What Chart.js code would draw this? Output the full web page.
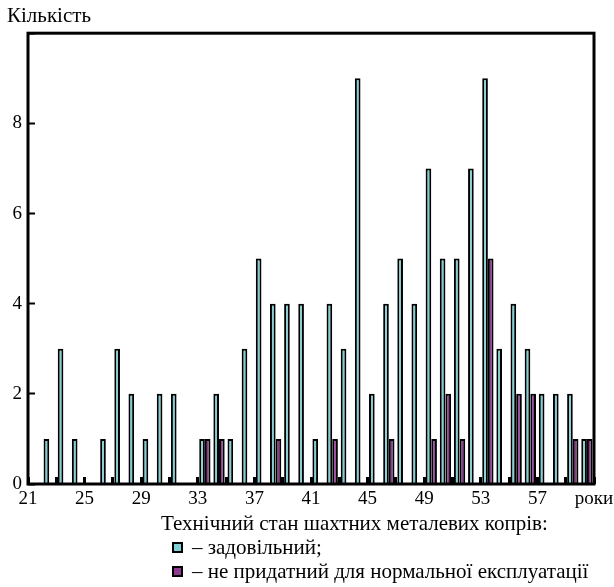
<!DOCTYPE html>
<html>
<head>
<meta charset="utf-8">
<script src="https://cdn.jsdelivr.net/npm/chart.js@4.4.0/dist/chart.umd.min.js"></script>
<style>
body { margin: 0; background: #ffffff; }
#wrap { position: relative; width: 614px; height: 587px; }
#legend { position: absolute; left: 0; top: 511px; width: 614px; font-family: "Liberation Serif", serif; font-size: 21px; line-height: 25px; color: #000; }
#legend .lg-title { position: absolute; left: 161px; top: 0; white-space: nowrap; }
#legend .lg-item { position: absolute; left: 172px; white-space: nowrap; }
#legend .lg-box { display: inline-block; width: 7px; height: 7px; border: 2px solid #000; vertical-align: 1px; margin-right: 9px; }
</style>
</head>
<body>
<div id="wrap">
    <canvas id="display-diagram" width="614" height="587"></canvas>
    <div id="legend"></div>
</div>
<script>
var years = [22, 23, 24, 25, 26, 27, 28, 29, 30, 31, 32, 33, 34, 35, 36, 37, 38, 39, 40, 41,
    42, 43, 44, 45, 46, 47, 48, 49, 50, 51, 52, 53, 54, 55, 56, 57, 58, 59, 60];
// Технічний стан: задовільний
var satisfactory = [1, 3, 1, null, 1, 3, 2, 1, 2, 2, null, 1, 2, 1, 3, 5, 4, 4, 4, 1,
    4, 3, 9, 2, 4, 5, 4, 7, 5, 5, 7, 9, 3, 4, 3, 2, 2, 2, 1];
// Технічний стан: не придатний
var unfit = [null, null, null, null, null, null, null, null, null, null, null, 1, 1, null, null, null, 1, null, null, null,
    1, null, null, null, 1, null, null, 1, 2, 1, null, 5, null, 2, 2, null, null, 1, 1];

var xLabelYears = [21, 25, 29, 33, 37, 41, 45, 49, 53, 57];
var xEndLabel = 'роки';
var yLabels = [0, 2, 4, 6, 8];
var legendTitle = 'Технічний стан шахтних металевих копрів:';
var seriesNames = ['– задовільний;', '– не придатний для нормальної експлуатації'];

var fontFamily = '"Liberation Serif", "Times New Roman", serif';
var profileDiagram;

function toPoints(values) { // pair the years with values, bar sits in the middle of the year
    var pts = [];
    for (var i = 0; i < years.length; i++) {
        pts.push({ x: years[i] + 0.5, y: values[i] });
    }
    return pts;
}

// frame around the plot area
var frameBox = {
    id: 'frameBox',
    afterDatasetsDraw: function (chart) {
        var a = chart.chartArea;
        var ctx = chart.ctx;
        ctx.save();
        ctx.strokeStyle = '#000';
        ctx.lineWidth = 3;
        ctx.strokeRect(a.left, a.top, a.right - a.left, a.bottom - a.top);
        ctx.restore();
    }
};

function showDiagram() {
    var ctx = document.getElementById('display-diagram');
    profileDiagram = new Chart(ctx, {
        type: 'bar',
        data: {
            datasets: [{
                label: seriesNames[0],
                data: toPoints(satisfactory),
                backgroundColor: '#7fd0d5',
                borderColor: '#000',
                borderWidth: 2,
                categoryPercentage: 0.8,
                barPercentage: 1.0
            }, {
                label: seriesNames[1],
                data: toPoints(unfit),
                backgroundColor: '#8e3b92',
                borderColor: '#000',
                borderWidth: 2,
                categoryPercentage: 0.8,
                barPercentage: 1.0
            }]
        },
        options: {
            responsive: false,
            animation: false,
            layout: { padding: { left: 7, right: 16, top: 0, bottom: 74 } },
            plugins: {
                legend: { display: false },
                tooltip: { enabled: false },
                title: {
                    display: true,
                    text: 'Кількість',
                    align: 'start',
                    color: '#000',
                    font: { family: fontFamily, size: 21, weight: 'normal' },
                    padding: { top: 4, bottom: 4 }
                }
            },
            scales: {
                x: {
                    type: 'linear',
                    min: 21,
                    max: 61,
                    offset: false,
                    border: { display: false },
                    grid: {
                        offset: false,
                        drawOnChartArea: false,
                        drawTicks: true,
                        tickLength: -7,
                        tickWidth: 3,
                        tickColor: '#000'
                    },
                    ticks: {
                        stepSize: 2,
                        autoSkip: false,
                        maxRotation: 0,
                        padding: 11,
                        color: '#000',
                        font: { family: fontFamily, size: 19 },
                        callback: function (value) {
                            if (value === 61) return xEndLabel;
                            if (xLabelYears.indexOf(value) >= 0) return String(value);
                            return '';
                        }
                    },
                    afterFit: function (scale) {
                        scale.height = 29;
                        scale.paddingLeft = 0;
                        scale.paddingRight = 20; // room for "роки"
                    }
                },
                y: {
                    min: 0,
                    max: 10,
                    border: { display: false },
                    grid: {
                        drawOnChartArea: false,
                        drawTicks: true,
                        tickLength: -7,
                        tickWidth: 2,
                        tickColor: '#000'
                    },
                    ticks: {
                        stepSize: 2,
                        padding: 13,
                        color: '#000',
                        font: { family: fontFamily, size: 19 },
                        callback: function (value) {
                            return yLabels.indexOf(value) >= 0 ? String(value) : '';
                        }
                    },
                    afterFit: function (scale) { scale.width = 21; }
                }
            }
        },
        plugins: [frameBox]
    });
}

function buildLegend() { // legend under the chart, taken from the datasets
    var box = document.getElementById('legend');
    var html = '<div class="lg-title">' + legendTitle + '</div>';
    var sets = profileDiagram.data.datasets;
    for (var i = 0; i < sets.length; i++) {
        html += '<div class="lg-item" style="top:' + (24 * (i + 1)) + 'px">' +
            '<span class="lg-box" style="background:' + sets[i].backgroundColor + '"></span>' +
            sets[i].label + '</div>';
    }
    box.innerHTML = html;
}

showDiagram();
buildLegend();
</script>
</body>
</html>
